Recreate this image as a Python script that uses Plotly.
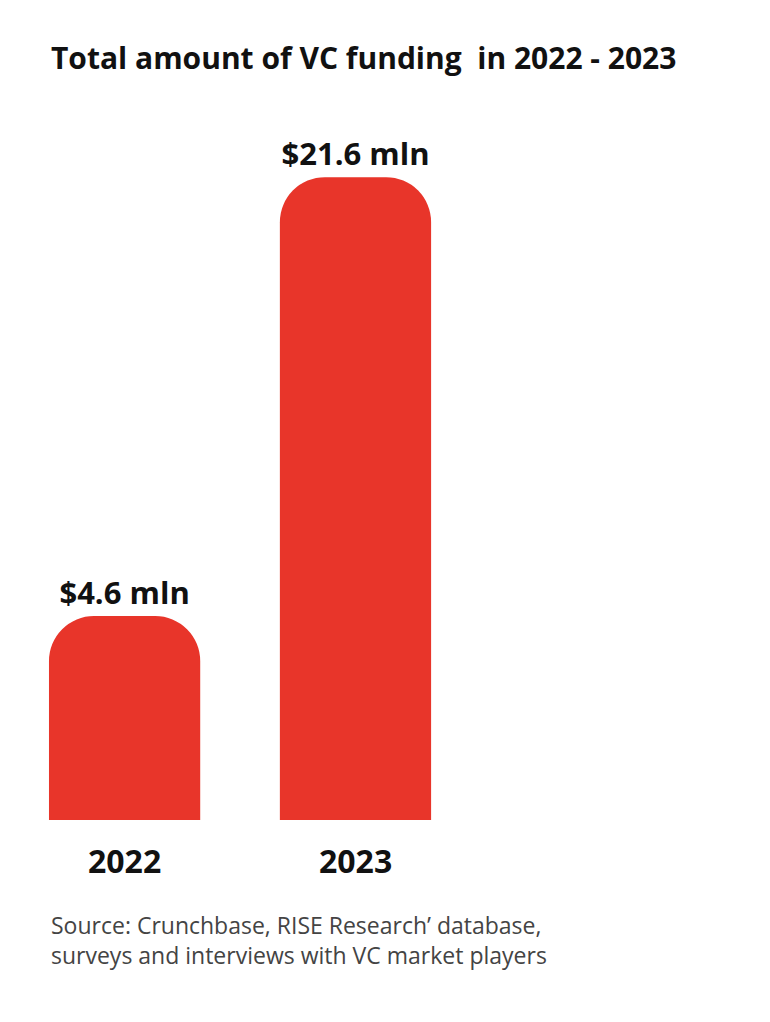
import plotly.graph_objects as go

years = ["2022", "2023"]
funding = [4.6, 21.6]
value_labels = ["$4.6 mln", "$21.6 mln"]
axis_offset = 3.3  # the reference's bars don't start at zero

title = "Total amount of VC funding  in 2022 - 2023"
source = "Source: Crunchbase, RISE Research\u2019 database,<br>surveys and interviews with VC market players"

font_family = "Open Sans, Lato, sans-serif"
red = "#E8352A"

fig = go.Figure(
    go.Bar(
        x=[0, 1],
        y=[v + axis_offset for v in funding],
        width=0.655,
        marker=dict(color=red, line=dict(width=0)),
        text=value_labels,
        textposition="outside",
        cliponaxis=False,
        textfont=dict(family=font_family, size=31, color="#111111", weight="bold"),
        hoverinfo="skip",
    )
)

for i, yr in enumerate(years):
    fig.add_annotation(
        x=i, y=0, yshift=-40, text=yr, showarrow=False,
        font=dict(family=font_family, size=32, color="#111111", weight="bold"),
    )

fig.add_annotation(
    xref="paper", yref="paper", x=41 / 770, y=1 - 50 / 1022,
    xanchor="left", yanchor="middle", text=title, showarrow=False,
    font=dict(family=font_family, size=30, color="#111111", weight="bold"),
)
fig.add_annotation(
    xref="paper", yref="paper", x=41 / 770, y=1 - 932 / 1022,
    xanchor="left", yanchor="middle", align="left", text=source, showarrow=False,
    font=dict(family=font_family, size=23, color="#444444"),
)

fig.update_layout(
    width=770, height=1022,
    margin=dict(l=0, r=0, t=0, b=0),
    paper_bgcolor="white", plot_bgcolor="white",
    barcornerradius=45,
    showlegend=False,
    xaxis=dict(range=[-0.505, 2.83], visible=False, fixedrange=True),
    yaxis=dict(range=[-8.13, 31.45], visible=False, fixedrange=True),
)

fig.write_html("out.html")
